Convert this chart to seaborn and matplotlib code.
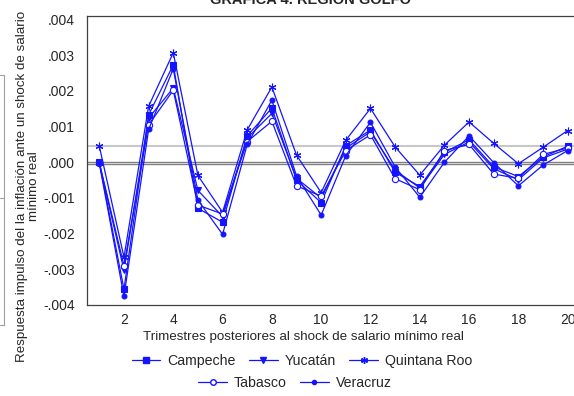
import numpy as np
import pandas as pd
import matplotlib
matplotlib.use("Agg")
import matplotlib.pyplot as plt
from matplotlib.lines import Line2D
import seaborn as sns

# ----------------------------------------------------------------------------------------------
# Impulse responses (20 quarters)
# ----------------------------------------------------------------------------------------------
periods = list(range(1, 21))
campeche = [0.00000, -0.00356, 0.00133, 0.00273, -0.00129, -0.00168, 0.00074, 0.00152, -0.00050, -0.00113,
            0.00047, 0.00090, -0.00028, -0.00068, 0.00028, 0.00063, -0.00013, -0.00040, 0.00015, 0.00045]
yucatan = [-0.00002, -0.00303, 0.00124, 0.00208, -0.00079, -0.00152, 0.00068, 0.00137, -0.00045, -0.00100,
           0.00040, 0.00085, -0.00022, -0.00072, 0.00022, 0.00057, -0.00018, -0.00049, 0.00012, 0.00037]
quintana_roo = [0.00045, -0.00266, 0.00157, 0.00307, -0.00037, -0.00140, 0.00091, 0.00211, 0.00020, -0.00085,
                0.00062, 0.00151, 0.00043, -0.00036, 0.00048, 0.00113, 0.00053, -0.00004, 0.00042, 0.00089]
tabasco = [-0.00001, -0.00290, 0.00105, 0.00202, -0.00120, -0.00145, 0.00058, 0.00115, -0.00066, -0.00095,
           0.00033, 0.00077, -0.00046, -0.00077, 0.00033, 0.00050, -0.00033, -0.00045, 0.00022, 0.00040]
veracruz = [-0.00003, -0.00376, 0.00092, 0.00262, -0.00106, -0.00202, 0.00050, 0.00174, -0.00038, -0.00148,
            0.00019, 0.00112, -0.00013, -0.00098, 0.00000, 0.00074, -0.00001, -0.00066, -0.00008, 0.00033]

states = ["Campeche", "Yucatán", "Quintana Roo", "Tabasco", "Veracruz"]
y_ticks = [0.004, 0.003, 0.002, 0.001, 0.0, -0.001, -0.002, -0.003, -0.004]
y_tick_labels = [".004", ".003", ".002", ".001", ".000", "-.001", "-.002", "-.003", "-.004"]
x_labels = [2, 4, 6, 8, 10, 12, 14, 16, 18, 20]

irf_df = pd.DataFrame({"Trimestre": periods * 5,
                       "Estado": np.repeat(states, 20),
                       "Respuesta": campeche + yucatan + quintana_roo + tabasco + veracruz})

# ----------------------------------------------------------------------------------------------
sns.set_style("white")
plt.rcParams["font.family"] = ["Liberation Sans", "DejaVu Sans"]

blue = "#1414ff"
markers = {"Campeche": "s", "Yucatán": "v", "Quintana Roo": (6, 2, 0),
           "Tabasco": "o", "Veracruz": "o"}
msizes = {"Campeche": 4.5, "Yucatán": 4.5, "Quintana Roo": 5.5, "Tabasco": 4.5, "Veracruz": 3.5}

fig = plt.figure(figsize=(5.74, 3.96), dpi=100)
ax = fig.add_axes([87 / 574, 1 - 305 / 396, 493 / 574, 289 / 396])

# reference lines
ax.axhline(0.00046, color="#c8c8c8", lw=1.5, zorder=1)
ax.axhline(0.0, color="#808080", lw=1.0, zorder=1)
ax.axhline(-0.00005, color="#808080", lw=1.0, zorder=1)

for st in states:
    sub = irf_df[irf_df["Estado"] == st]
    face = "white" if st == "Tabasco" else blue
    sns.lineplot(data=sub, x="Trimestre", y="Respuesta", ax=ax, color=blue, lw=0.9,
                 marker=markers[st], markersize=msizes[st], markerfacecolor=face,
                 markeredgecolor=blue, markeredgewidth=0.8, label=st, legend=False, zorder=3)

ax.set_xlim(0.5, 20.5)
ax.set_ylim(-0.004, 0.0041)
ax.set_yticks(y_ticks)
ax.set_yticklabels(y_tick_labels, fontsize=10)
ax.set_xticks(np.arange(1.5, 20.5, 1.0))
ax.set_xticklabels([])
ax.set_xticks(x_labels, minor=True)
ax.set_xticklabels([str(v) for v in x_labels], minor=True, fontsize=10)
ax.tick_params(axis="both", which="major", direction="out", length=5, width=0.8, color="#404040", pad=3.6)
ax.tick_params(axis="x", which="minor", length=0, pad=6)
for sp in ax.spines.values():
    sp.set_color("#404040")
    sp.set_linewidth(0.9)

ax.set_xlabel("Trimestres posteriores al shock de salario mínimo real", fontsize=9.6)
ax.xaxis.set_label_coords((303 - 87) / 493, -(337 - 305) / 289)
ax.xaxis.label.set_va("center")
ax.set_ylabel("Respuesta impulso del la inflación ante un shock de salario\nmínimo real",
              fontsize=9.6, linespacing=1.0)
ax.yaxis.set_label_coords(-(87 - 40) / 493, (305 - 186) / 289)

fig.text(310 / 574, 1 - 4 / 396, "GRAFICA 4. REGION GOLFO", ha="center", va="baseline",
         fontsize=10.5, fontweight="bold")

# leftover frame edge at the left border
fig.add_artist(Line2D([3.5 / 574, 3.5 / 574], [1 - 75 / 396, 1 - 325 / 396], color="#a0a0a0", lw=0.8))
fig.add_artist(Line2D([0, 3.5 / 574], [1 - 75 / 396, 1 - 75 / 396], color="#a0a0a0", lw=0.8))
fig.add_artist(Line2D([0, 3.5 / 574], [1 - 325 / 396, 1 - 325 / 396], color="#a0a0a0", lw=0.8))
fig.add_artist(Line2D([0, 3.5 / 574], [1 - 198 / 396, 1 - 198 / 396], color="#a0a0a0", lw=0.8))

# legend in two centered rows
handles = {}
for st in states:
    face = "white" if st == "Tabasco" else blue
    handles[st] = Line2D([], [], color=blue, lw=0.9, marker=markers[st], markersize=msizes[st] - 0.5,
                         markerfacecolor=face, markeredgecolor=blue)
leg1 = fig.legend([handles[s] for s in states[:3]], states[:3], ncol=3, frameon=False,
                  loc="center", bbox_to_anchor=(302 / 574, 1 - 361 / 396), fontsize=10.2,
                  handlelength=2.0, handletextpad=0.5, columnspacing=0.95, borderpad=0)
leg2 = fig.legend([handles[s] for s in states[3:]], states[3:], ncol=2, frameon=False,
                  loc="center", bbox_to_anchor=(295 / 574, 1 - 383 / 396), fontsize=10.2,
                  handlelength=2.0, handletextpad=0.5, columnspacing=0.95, borderpad=0)

plt.savefig("out.png", dpi=100)
plt.close()
